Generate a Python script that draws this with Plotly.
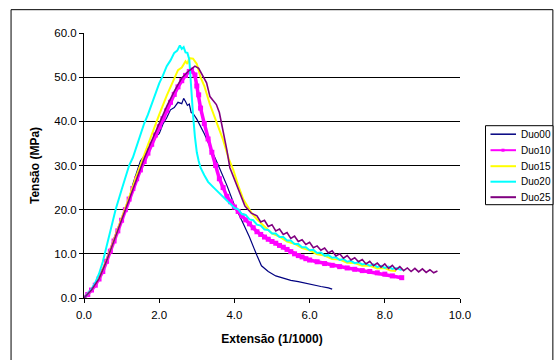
import plotly.graph_objects as go

# ---------------- data ----------------
duo00_x = [0, 0.1, 0.2, 0.3, 0.4, 0.5, 0.6, 0.7, 0.8, 0.9, 1.0, 1.1, 1.2, 1.3, 1.4, 1.5, 1.6, 1.7, 1.8, 1.9,
           2.0, 2.1, 2.2, 2.3, 2.4, 2.5, 2.6, 2.65, 2.7, 2.75, 2.8, 2.85, 2.9, 3.0, 3.2, 3.4, 3.6, 3.8, 4.0,
           4.2, 4.4, 4.6, 4.72, 4.9, 5.1, 5.3, 5.5, 5.7, 5.9, 6.1, 6.3, 6.5, 6.6]
duo00_y = [0, 0.8, 1.9, 2.8, 4.3, 6.0, 8.6, 11.2, 13.5, 15.8, 17.6, 19.8, 22.5, 25.8, 28.6, 31.0, 32.2, 33.8, 34.6, 36.5,
           37.2, 39.4, 40.8, 42.6, 43.1, 44.3, 44.0, 45.2, 44.5, 43.6, 43.9, 42.0, 41.8, 40.5, 37.2, 33.5, 29.5, 25.5, 21.0,
           17.5, 13.8, 9.6, 7.3, 6.0, 5.0, 4.5, 4.0, 3.7, 3.3, 3.0, 2.6, 2.3, 2.0]

duo10_x = [0, 0.1, 0.2, 0.3, 0.4, 0.5, 0.6, 0.7, 0.8, 0.9, 1.0, 1.1, 1.2, 1.3, 1.4, 1.5, 1.6, 1.7, 1.8, 1.9,
           2.0, 2.1, 2.2, 2.3, 2.4, 2.5, 2.6, 2.7, 2.8, 2.86, 2.95, 3.0, 3.05, 3.1, 3.2, 3.3, 3.4, 3.5, 3.6, 3.7,
           3.8, 3.9, 4.0, 4.1, 4.2, 4.3, 4.4, 4.5, 4.6, 4.7, 4.8, 4.9, 5.0, 5.1, 5.2, 5.3, 5.4, 5.5, 5.6, 5.7,
           5.8, 5.9, 6.0, 6.2, 6.4, 6.6, 6.8, 7.0, 7.2, 7.4, 7.6, 7.8, 8.0, 8.2, 8.45]
duo10_y = [0, 0.8, 1.8, 2.9, 4.3, 6.0, 8.3, 10.6, 12.9, 15.2, 17.6, 20.0, 22.4, 24.8, 27.0, 29.0, 30.9, 32.8, 34.8, 36.9,
           38.8, 40.6, 42.4, 44.3, 46.1, 47.8, 49.2, 50.4, 51.3, 51.6, 50.5, 48.0, 46.0, 43.0, 39.5, 36.0, 33.0, 30.0, 27.0, 25.0,
           23.0, 21.8, 20.6, 19.6, 18.6, 17.7, 16.8, 15.9, 15.0, 14.4, 13.8, 13.3, 12.8, 12.4, 11.9, 11.5, 11.0, 10.5, 10.0, 9.6,
           9.3, 8.9, 8.6, 8.2, 7.8, 7.4, 7.1, 6.8, 6.5, 6.2, 6.0, 5.7, 5.4, 5.0, 4.6]

duo15_x = [0, 0.2, 0.4, 0.6, 0.8, 1.0, 1.2, 1.4, 1.6, 1.8, 2.0, 2.2, 2.4, 2.5, 2.6, 2.7, 2.75, 2.8, 2.9, 3.0,
           3.1, 3.2, 3.35, 3.5, 3.7, 3.85, 3.97, 4.1, 4.24, 4.46, 4.6, 4.8, 5.0, 5.2, 5.4, 5.6, 5.8, 6.0, 6.2, 6.4,
           6.6, 6.8, 7.0, 7.2, 7.4, 7.6, 7.8, 8.0, 8.15, 8.3]
duo15_y = [0, 1.9, 4.5, 8.5, 13.2, 17.8, 22.8, 27.8, 32.5, 37.0, 41.5, 45.8, 49.8, 51.6, 52.2, 53.6, 53.0, 54.3, 54.2, 53.0,
           50.0, 48.0, 43.8, 40.5, 35.8, 31.5, 29.0, 25.5, 22.3, 19.2, 17.8, 16.2, 14.6, 13.9, 12.8, 12.3, 11.3, 10.8, 9.9, 9.6,
           8.8, 8.7, 8.0, 7.9, 7.3, 7.3, 6.7, 6.8, 6.2, 6.1]

duo20_x = [0, 0.1, 0.2, 0.3, 0.4, 0.5, 0.55, 0.6, 0.7, 0.84, 1.0, 1.1, 1.2, 1.3, 1.4, 1.5, 1.6, 1.7, 1.8, 1.9,
           2.0, 2.1, 2.2, 2.3, 2.4, 2.48, 2.55, 2.6, 2.65, 2.7, 2.75, 2.8, 2.85, 2.9, 2.95, 3.0, 3.05, 3.1, 3.2, 3.3,
           3.45, 3.6, 3.8, 4.0, 4.1, 4.2, 4.3, 4.4, 4.5, 4.6, 4.7, 4.8, 4.9, 5.0, 5.1, 5.2, 5.3, 5.4, 5.5, 5.6,
           5.7, 5.8, 5.9, 6.0, 6.1, 6.2, 6.3, 6.4, 6.5, 6.6, 6.7, 6.8, 6.9, 7.0, 7.1, 7.2, 7.3, 7.4, 7.5, 7.6,
           7.7, 7.8, 7.9, 8.0, 8.1, 8.2, 8.3, 8.45]
duo20_y = [0, 0.9, 2.0, 3.5, 5.5, 8.2, 10.0, 11.6, 14.8, 20.0, 24.5, 27.5, 30.0, 31.8, 34.5, 36.8, 39.5, 41.5, 44.0, 46.2,
           48.6, 50.4, 52.5, 53.8, 55.5, 56.0, 57.2, 56.4, 56.8, 55.6, 55.5, 54.0, 47.0, 41.5, 36.5, 33.0, 31.0, 29.5, 27.8, 26.3,
           25.0, 23.8, 22.0, 20.4, 20.1, 19.0, 18.8, 17.8, 17.6, 16.6, 16.4, 15.5, 15.4, 14.6, 14.6, 13.8, 13.8, 13.0, 13.0, 12.2,
           12.2, 11.5, 11.5, 10.8, 10.9, 10.2, 10.3, 9.6, 9.7, 9.1, 9.2, 8.6, 8.8, 8.2, 8.4, 7.9, 8.1, 7.6, 7.8, 7.3,
           7.6, 7.0, 7.3, 6.8, 7.1, 6.6, 6.8, 6.3]

duo25_x = [0, 0.2, 0.4, 0.6, 0.8, 1.0, 1.2, 1.4, 1.6, 1.8, 2.0, 2.2, 2.4, 2.6, 2.8, 2.95, 3.05, 3.15, 3.26, 3.35,
           3.45, 3.52, 3.6, 3.66, 3.74, 3.8, 3.88, 3.97, 4.06, 4.15, 4.28, 4.45, 4.6, 4.7, 4.8, 4.9, 5.0, 5.1, 5.2, 5.3,
           5.4, 5.5, 5.6, 5.7, 5.8, 5.9, 6.0, 6.1, 6.2, 6.3, 6.4, 6.5, 6.6, 6.7, 6.8, 6.9, 7.0, 7.1, 7.2, 7.3,
           7.4, 7.5, 7.6, 7.7, 7.8, 7.9, 8.0, 8.1, 8.2, 8.3, 8.4, 8.5, 8.6, 8.7, 8.8, 8.9, 9.0, 9.1, 9.2, 9.3, 9.4]
duo25_y = [0, 1.8, 4.4, 8.4, 13.0, 17.7, 22.6, 27.3, 31.6, 35.6, 39.6, 43.4, 46.8, 49.8, 51.5, 52.5, 52.0, 50.5, 48.7, 45.6,
           44.5, 43.8, 42.0, 39.5, 35.8, 33.5, 29.5, 27.5, 25.5, 23.5, 20.8, 19.2, 18.6, 17.2, 17.6, 16.2, 16.6, 15.2, 15.6, 14.4,
           14.8, 13.5, 14.0, 12.8, 13.2, 12.1, 12.6, 11.4, 11.8, 10.8, 11.3, 10.2, 10.7, 9.5, 10.0, 9.0, 9.6, 8.6, 9.1, 8.2,
           8.7, 7.7, 8.3, 7.3, 7.9, 7.0, 7.7, 6.7, 7.4, 6.4, 7.1, 6.2, 6.8, 6.0, 6.7, 5.9, 6.6, 5.8, 6.4, 5.7, 6.1]

names = ["Duo00", "Duo10", "Duo15", "Duo20", "Duo25"]
colors = ["#000080", "#FF00FF", "#FFFF00", "#00FFFF", "#800080"]

x_ticks = [0, 2, 4, 6, 8, 10]
y_ticks = [0, 10, 20, 30, 40, 50, 60]

FONT = "Liberation Sans, Arial, sans-serif"

fig = go.Figure()
fig.add_trace(go.Scatter(x=duo00_x, y=duo00_y, name=names[0], mode="lines",
                         line=dict(color=colors[0], width=1.2)))
fig.add_trace(go.Scatter(x=duo10_x, y=duo10_y, name=names[1], mode="lines+markers",
                         line=dict(color=colors[1], width=3.5),
                         marker=dict(color=colors[1], size=5, symbol="square")))
fig.add_trace(go.Scatter(x=duo15_x, y=duo15_y, name=names[2], mode="lines",
                         line=dict(color=colors[2], width=2)))
fig.add_trace(go.Scatter(x=duo20_x, y=duo20_y, name=names[3], mode="lines",
                         line=dict(color=colors[3], width=2)))
fig.add_trace(go.Scatter(x=duo25_x, y=duo25_y, name=names[4], mode="lines",
                         line=dict(color=colors[4], width=1.6)))

# ---- legend drawn by hand (paper coordinates of the plot area) ----
PX0, PX1, PY0, PY1 = 84.0, 460.0, 298.3, 33.3
def px(x):
    return (x - PX0) / (PX1 - PX0)
def py(y):
    return (PY0 - y) / (PY0 - PY1)

shapes = [
    dict(type="rect", xref="paper", yref="paper",
         x0=-0.194, x1=1.247, y0=-0.26, y1=1.088,
         line=dict(color="#000000", width=1), fillcolor="rgba(0,0,0,0)", layer="below"),
    dict(type="rect", xref="paper", yref="paper",
         x0=px(485.5), x1=px(553), y0=py(205), y1=py(126),
         line=dict(color="#000000", width=1), fillcolor="white", layer="above"),
]
annotations = []
row_y = [134.5, 150.5, 166.5, 182, 197.5]
for i, (nm, col) in enumerate(zip(names, colors)):
    yy = py(row_y[i])
    shapes.append(dict(type="line", xref="paper", yref="paper",
                       x0=px(490.5), x1=px(516), y0=yy, y1=yy,
                       line=dict(color=col, width=2 if i != 0 else 1.5), layer="above"))
    annotations.append(dict(xref="paper", yref="paper", x=px(518.5), y=yy,
                            xanchor="left", yanchor="middle", showarrow=False,
                            text=nm, font=dict(family=FONT, size=10, color="#000000")))
# small square marker on Duo10 legend sample
shapes.append(dict(type="rect", xref="paper", yref="paper",
                   x0=px(501.5), x1=px(504.5), y0=py(row_y[1] + 1.5), y1=py(row_y[1] - 1.5),
                   line=dict(color=colors[1], width=0), fillcolor=colors[1], layer="above"))

fig.update_layout(
    width=554, height=360,
    margin=dict(l=84, r=94, t=33, b=62),
    paper_bgcolor="white", plot_bgcolor="white",
    font=dict(family=FONT, size=11.5, color="#000000"),
    showlegend=False,
    xaxis=dict(range=[0, 10], tickvals=x_ticks, tickformat=".1f",
               showline=True, linecolor="#000000", linewidth=1,
               ticks="outside", ticklen=4, tickcolor="#000000",
               ticklabelstandoff=2,
               showgrid=False, zeroline=False,
               title=dict(text="<b>Extensão (1/1000)</b>", font=dict(family=FONT, size=12), standoff=14)),
    yaxis=dict(range=[0, 60], tickvals=y_ticks, tickformat=".1f",
               showline=True, linecolor="#000000", linewidth=1,
               ticks="outside", ticklen=4, tickcolor="#000000",
               showgrid=True, gridcolor="#000000", gridwidth=1, zeroline=False,
               title=dict(text="<b>Tensão (MPa)</b>", font=dict(family=FONT, size=12), standoff=12)),
    shapes=shapes,
    annotations=annotations,
)

fig.write_html("out.html")
